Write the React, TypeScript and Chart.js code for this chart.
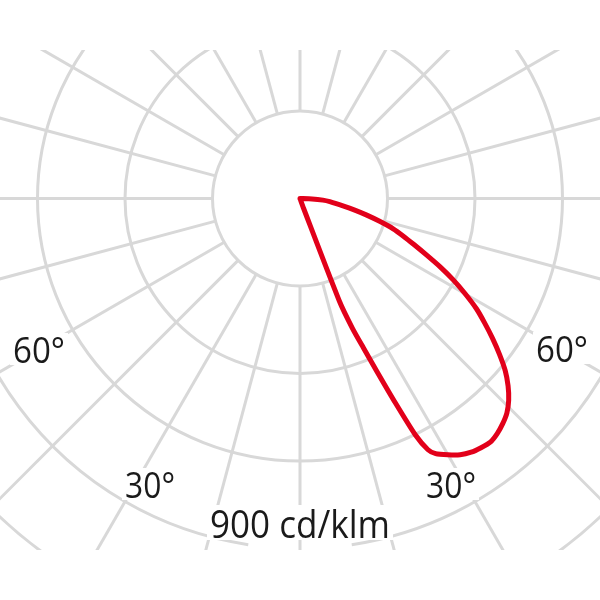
import React, { useEffect, useRef } from "react";
import { Chart, registerables } from "chart.js";

Chart.register(...registerables);

// Luminous intensity distribution (C-plane), angle from nadir in degrees
const angles = [0, 19, 20, 21, 22, 23, 24, 25, 26, 27, 28, 30, 32, 34, 36, 38, 40, 42, 44, 46, 48, 50, 52, 54, 56, 58, 60, 62, 64, 66, 68, 70, 72, 74, 76, 78, 80, 84, 86, 88, 90];
// intensity in cd/klm
const intensities = [0, 0, 26, 283, 360, 417, 489, 579, 676, 725, 743, 761, 777, 787, 792, 795, 789, 779, 766, 746, 720, 689, 651, 612, 573, 535, 491, 447, 401, 355, 316, 283, 252, 213, 177, 144, 116, 77, 59, 31, 0];

const ringValues = [225, 450, 675, 900, 1125];
const spokeAngles = [0, 15, 30, 45, 60, 75, 90, 105, 120, 135, 150, 165, 180, 195, 210, 225, 240, 255, 270, 285, 300, 315, 330, 345];
const angleLabels = ["60°", "30°", "30°", "60°"];
const scaleLabel = "900 cd/klm";

const PX_PER_CD = 350 / 900;
const CENTER_X = 300;
const CENTER_Y = 198.5;
const SIZE = 600;
const CLIP_TOP = 50;
const CLIP_BOTTOM = 550;
const GRID_COLOR = "#d8d8d8";
const RED = "#e2001a";
const TEXT_COLOR = "#1a1a1a";

function drawLabel(ctx: CanvasRenderingContext2D, text: string, cx: number, baseline: number, fontPx: number, targetW: number, capH: number) {
  ctx.save();
  ctx.font = `${fontPx}px "Open Sans"`;
  const w = ctx.measureText(text).width;
  const sx = targetW / w;
  ctx.fillStyle = "#ffffff";
  ctx.fillRect(cx - targetW / 2 - 3, baseline - capH - 4, targetW + 6, capH + 6);
  ctx.translate(cx, baseline);
  ctx.scale(sx, 1);
  ctx.textAlign = "center";
  ctx.textBaseline = "alphabetic";
  ctx.fillStyle = TEXT_COLOR;
  ctx.fillText(text, 0, 0);
  ctx.restore();
}

const polarGridPlugin = {
  id: "polarGrid",
  beforeDatasetsDraw(chart: any) {
    const ctx: CanvasRenderingContext2D = chart.ctx;
    const xs = chart.scales.x;
    const ys = chart.scales.y;
    const cx = xs.getPixelForValue(0);
    const cy = ys.getPixelForValue(0);
    const rad = (v: number) => xs.getPixelForValue(v) - cx;
    ctx.save();
    ctx.beginPath();
    ctx.rect(0, CLIP_TOP, chart.width, CLIP_BOTTOM - CLIP_TOP);
    ctx.clip();
    ctx.strokeStyle = GRID_COLOR;
    ctx.lineWidth = 3;
    // rings
    ringValues.forEach((v, i) => {
      const r = rad(v);
      ctx.beginPath();
      if (i === 3) {
        const gap = (8.5 * Math.PI) / 180;
        ctx.arc(cx, cy, r, Math.PI / 2 + gap, Math.PI / 2 - gap + Math.PI * 2);
      } else {
        ctx.arc(cx, cy, r, 0, Math.PI * 2);
      }
      ctx.stroke();
    });
    // spokes
    const r0 = rad(ringValues[0]);
    const r1 = 600;
    spokeAngles.forEach((a) => {
      const t = (a * Math.PI) / 180;
      const dx = Math.sin(t);
      const dy = Math.cos(t);
      ctx.beginPath();
      ctx.moveTo(cx + dx * r0, cy + dy * r0);
      ctx.lineTo(cx + dx * r1, cy + dy * r1);
      ctx.stroke();
    });
    // labels
    const labelPos = [
      { dx: -261, base: 164.5, w: 52 },
      { dx: -150, base: 299.5, w: 50 },
      { dx: 151, base: 299.5, w: 50 },
      { dx: 262, base: 163.5, w: 52 },
    ];
    angleLabels.forEach((t, i) => {
      const p = labelPos[i];
      drawLabel(ctx, t, cx + p.dx, cy + p.base, 36, p.w, 26);
    });
    drawLabel(ctx, scaleLabel, cx, cy + 339.5, 39, 180, 29);
    ctx.restore();
  },
};

export default function App() {
  const ref = useRef<HTMLCanvasElement | null>(null);
  useEffect(() => {
    if (!ref.current) return;
    const points = angles.map((a, i) => {
      const t = (a * Math.PI) / 180;
      return { x: intensities[i] * Math.sin(t), y: -intensities[i] * Math.cos(t) };
    });
    const chart = new Chart(ref.current, {
      type: "scatter",
      data: {
        datasets: [
          {
            data: points,
            showLine: true,
            borderColor: RED,
            borderWidth: 5,
            pointRadius: 0,
            tension: 0.2,
            fill: false,
            borderJoinStyle: "round",
            borderCapStyle: "round",
            clip: false,
          } as any,
        ],
      },
      options: {
        responsive: false,
        animation: false,
        devicePixelRatio: 1,
        layout: { padding: 0 },
        plugins: { legend: { display: false }, tooltip: { enabled: false }, title: { display: false } },
        scales: {
          x: { type: "linear", display: false, min: -CENTER_X / PX_PER_CD, max: (SIZE - CENTER_X) / PX_PER_CD },
          y: { type: "linear", display: false, min: -(SIZE - CENTER_Y) / PX_PER_CD, max: CENTER_Y / PX_PER_CD },
        },
      },
      plugins: [polarGridPlugin],
    });
    return () => chart.destroy();
  }, []);
  return (
    <div style={{ position: "absolute", left: 0, top: 0, width: SIZE, height: SIZE, background: "#fff" }}>
      <canvas ref={ref} width={SIZE} height={SIZE} style={{ display: "block" }} />
    </div>
  );
}
